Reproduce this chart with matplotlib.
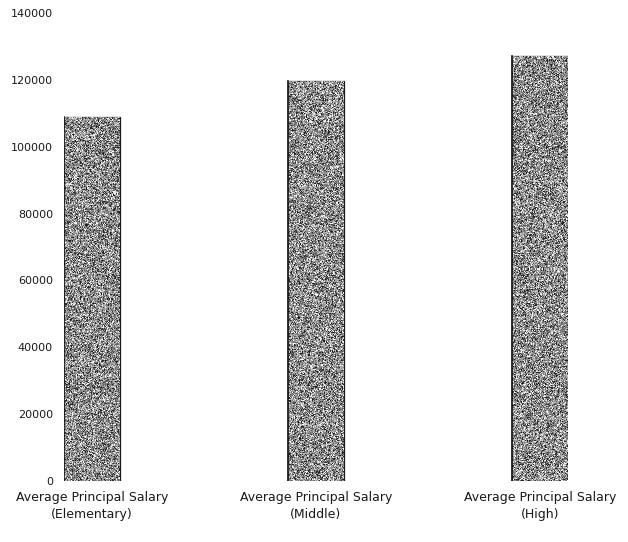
import matplotlib.pyplot as plt
import numpy as np

categories = ['Average Principal Salary\n(Elementary)',
              'Average Principal Salary\n(Middle)',
              'Average Principal Salary\n(High)']
salaries = [108900, 119600, 127200]
yticks = [0, 20000, 40000, 60000, 80000, 100000, 120000, 140000]

fig = plt.figure(figsize=(6.28, 5.42), dpi=100)
ax = fig.add_axes([0.1019, 0.1125, 0.8025, 0.8635])

x = np.arange(len(categories))
bars = ax.bar(x, salaries, width=0.25, color='#7d7d7d',
              edgecolor='#1a1a1a', linewidth=0.9)

# speckled grey fill, clipped to each bar
rng = np.random.default_rng(3)
for b in bars:
    bx, by = b.get_x(), b.get_y()
    bw, bh = b.get_width(), b.get_height()
    ny = int(round(bh / 140000 * 468))
    tex = rng.choice([0.15, 0.38, 0.52, 0.64, 0.78, 0.95], size=(ny, 56),
                     p=[0.14, 0.2, 0.22, 0.18, 0.14, 0.12])
    im = ax.imshow(tex, cmap='gray', vmin=0, vmax=1, interpolation='nearest',
                   extent=(bx, bx + bw, by, by + bh), aspect='auto', zorder=2)
    im.set_clip_path(b)
    ax.plot([bx, bx], [by, by + bh], color='#111111', lw=1.2, zorder=3)

ax.set_xlim(-0.125, 2.125)
ax.set_ylim(0, 140000)
ax.set_yticks(yticks)
ax.set_yticklabels([str(v) for v in yticks])
ax.set_xticks(x)
ax.set_xticklabels(categories, linespacing=1.4)
ax.tick_params(axis='both', length=0, colors='#1a1a1a')
ax.tick_params(axis='y', pad=8, labelsize=8)
ax.tick_params(axis='x', pad=7, labelsize=9)
for s in ax.spines.values():
    s.set_visible(False)

plt.savefig('out.png', dpi=100)
